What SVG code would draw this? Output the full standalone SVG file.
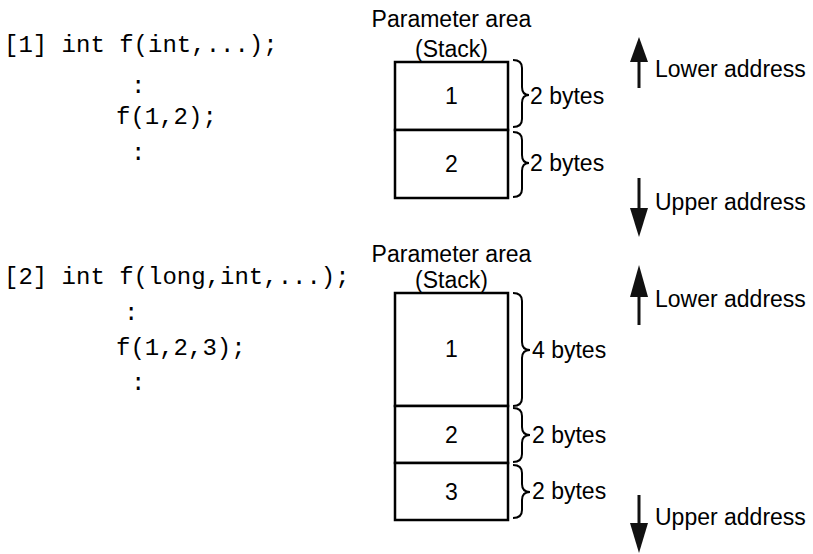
<svg xmlns="http://www.w3.org/2000/svg" width="813" height="554" viewBox="0 0 813 554">
<style>
.code{font-family:"Liberation Mono","Courier New",monospace;font-size:24px;fill:#000}
.lbl{font-family:"Liberation Sans",Arial,sans-serif;font-size:23px;fill:#000}
.mid{text-anchor:middle}
.box{fill:#fff;stroke:#000;stroke-width:2.5}
.brace{fill:none;stroke:#000;stroke-width:2}
.shaft{stroke:#111;stroke-width:3}
.head{fill:#111}
</style>
<rect width="813" height="554" fill="#fff"/>
<g id="code1">
<text class="code" x="4" y="52">[1] int f(int,...);</text>
<text class="code" x="131" y="93">:</text>
<text class="code" x="116" y="124">f(1,2);</text>
<text class="code" x="131" y="160">:</text>
</g>
<g id="code2">
<text class="code" x="4" y="284">[2] int f(long,int,...);</text>
<text class="code" x="124" y="320">:</text>
<text class="code" x="116" y="355">f(1,2,3);</text>
<text class="code" x="131" y="390">:</text>
</g>
<g id="stack1">
<text class="lbl mid" x="451.5" y="27">Parameter area</text>
<text class="lbl mid" x="451.5" y="57">(Stack)</text>
<rect class="box" x="395" y="62" width="113" height="68"/>
<rect class="box" x="395" y="130" width="113" height="68"/>
<text class="lbl mid" x="451.5" y="104">1</text>
<text class="lbl mid" x="451.5" y="172">2</text>
</g>
<g id="stack2">
<text class="lbl mid" x="451.5" y="262">Parameter area</text>
<text class="lbl mid" x="451.5" y="288">(Stack)</text>
<rect class="box" x="395" y="293" width="113" height="113"/>
<rect class="box" x="395" y="406" width="113" height="57"/>
<rect class="box" x="395" y="463" width="113" height="57"/>
<text class="lbl mid" x="451.5" y="357">1</text>
<text class="lbl mid" x="451.5" y="443">2</text>
<text class="lbl mid" x="451.5" y="500">3</text>
</g>
<g id="sizes1">
<path class="brace" d="M513 60 Q522 60 522 68 L522 87 Q522 95 529 95 Q522 95 522 103 L522 119 Q522 127 513 127"/>
<path class="brace" d="M513 132 Q522 132 522 140 L522 155 Q522 163 529 163 Q522 163 522 171 L522 189 Q522 197 513 197"/>
<text class="lbl" x="530" y="104">2 bytes</text>
<text class="lbl" x="530" y="171">2 bytes</text>
</g>
<g id="sizes2">
<path class="brace" d="M513 293 Q522 293 522 301 L522 342 Q522 350 530 350 Q522 350 522 358 L522 398 Q522 406 513 406"/>
<path class="brace" d="M513 408 Q522 408 522 416 L522 427 Q522 435 530 435 Q522 435 522 443 L522 454 Q522 462 513 462"/>
<path class="brace" d="M513 465 Q522 465 522 473 L522 484 Q522 492 530 492 Q522 492 522 500 L522 510 Q522 518 513 518"/>
<text class="lbl" x="532" y="358">4 bytes</text>
<text class="lbl" x="532" y="443">2 bytes</text>
<text class="lbl" x="532" y="499">2 bytes</text>
</g>
<g id="addr1">
<line class="shaft" x1="639" y1="60" x2="639" y2="88"/>
<polygon class="head" points="639,37 630,62 648,62"/>
<text class="lbl" x="655" y="77">Lower address</text>
<line class="shaft" x1="639" y1="178" x2="639" y2="210"/>
<polygon class="head" points="630,208 648,208 639,237"/>
<text class="lbl" x="655" y="210">Upper address</text>
</g>
<g id="addr2">
<line class="shaft" x1="639" y1="295" x2="639" y2="325"/>
<polygon class="head" points="639,265 630,297 648,297"/>
<text class="lbl" x="655" y="307">Lower address</text>
<line class="shaft" x1="639" y1="495" x2="639" y2="525"/>
<polygon class="head" points="630,523 648,523 639,553"/>
<text class="lbl" x="655" y="525">Upper address</text>
</g>
</svg>
